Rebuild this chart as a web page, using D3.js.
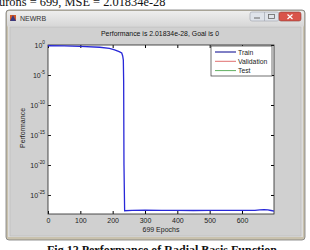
<!DOCTYPE html>
<html>
<head>
<meta charset="utf-8">
<script src="https://d3js.org/d3.v7.min.js"></script>
<style>
  body { margin: 0; background: #fff; }
  svg text { font-family: "Liberation Sans", Arial, sans-serif; }
</style>
</head>
<body>
<svg id="chart" width="310" height="250"></svg>
<script>
// training record (newrb)
var epochs = [0, 50, 100, 160, 190, 206, 220, 228, 231, 233, 234, 235, 237, 260, 300, 350, 400, 450, 500, 550, 600, 640, 655, 668, 680, 690, 699];
var trainPerf = [0.75, 0.7, 0.6, 0.42, 0.28, 0.15, 0.08, 0.047, 0.015, 0.003, 1e-6, 1e-20, 2.4e-28, 2.7e-28, 2.9e-28, 2.7e-28, 2.8e-28, 2.6e-28, 2.7e-28, 2.8e-28, 2.7e-28, 2.7e-28, 3.4e-28, 3.6e-28, 3.2e-28, 2.6e-28, 2.02e-28];
var xTicks = [0, 100, 200, 300, 400, 500, 600];
var yTickExps = [0, -5, -10, -15, -20, -25];
var legendNames = ["Train", "Validation", "Test"];
var legendColors = ["#00008b", "#e07070", "#60b060"];

var svg = d3.select("#chart");

// page text above the screenshot
svg.append("text").attr("x", -1).attr("y", 6)
  .style("font-family", "Liberation Serif").attr("font-size", 12.4).attr("fill", "#111")
  .text("urons = 699, MSE = 2.01834e-28");

// window frame
svg.append("rect").attr("x", 6).attr("y", 10).attr("width", 299).attr("height", 230)
  .attr("rx", 3).attr("fill", "#c9c2ae").attr("stroke", "#7a7a7a").attr("stroke-width", 0.8);
var tb = svg.append("defs").append("linearGradient").attr("id", "tb")
  .attr("x1", 0).attr("y1", 0).attr("x2", 0).attr("y2", 1);
tb.append("stop").attr("offset", 0).attr("stop-color", "#eeeeee");
tb.append("stop").attr("offset", 1).attr("stop-color", "#d6d6d6");
svg.append("rect").attr("x", 7).attr("y", 11).attr("width", 297).attr("height", 16)
  .attr("rx", 2).attr("fill", "url(#tb)");
svg.append("rect").attr("x", 8).attr("y", 26).attr("width", 295).attr("height", 211)
  .attr("fill", "#dcdcdc");
svg.append("rect").attr("x", 10).attr("y", 27).attr("width", 291).attr("height", 209)
  .attr("fill", "#d0d0d0").attr("stroke", "#b8b8b8").attr("stroke-width", 0.6);

// title bar icon + name
svg.append("rect").attr("x", 10).attr("y", 15).attr("width", 6).attr("height", 6).attr("fill", "#d0582a");
svg.append("path").attr("d", "M10,21 L13,15 L16,21 Z").attr("fill", "#3a3a80");
svg.append("text").attr("x", 20).attr("y", 21).attr("font-size", 7).attr("fill", "#333").text("NEWRB");

// caption buttons
svg.append("rect").attr("x", 250).attr("y", 12).attr("width", 29).attr("height", 9).attr("rx", 2)
  .attr("fill", "#dfe3ea").attr("stroke", "#9aa0aa").attr("stroke-width", 0.6);
svg.append("line").attr("x1", 264.5).attr("x2", 264.5).attr("y1", 12).attr("y2", 21).attr("stroke", "#9aa0aa").attr("stroke-width", 0.6);
svg.append("line").attr("x1", 254).attr("x2", 260).attr("y1", 18).attr("y2", 18).attr("stroke", "#666");
svg.append("rect").attr("x", 268.5).attr("y", 14.5).attr("width", 6).attr("height", 4).attr("fill", "none").attr("stroke", "#666").attr("stroke-width", 0.8);
svg.append("rect").attr("x", 279).attr("y", 12).attr("width", 22).attr("height", 9).attr("rx", 2)
  .attr("fill", "#d9544a").attr("stroke", "#8a3a32").attr("stroke-width", 0.6);
svg.append("path").attr("d", "M287.5,14.5 L292.5,19 M292.5,14.5 L287.5,19").attr("stroke", "#fff").attr("stroke-width", 1.2);

// plot
var x = d3.scaleLinear().domain([0, 699]).range([48, 274]);
var y = d3.scaleLog().domain([Math.pow(10, -28.17), 1]).range([214, 45]);

svg.append("rect").attr("x", 48).attr("y", 45).attr("width", 226).attr("height", 169).attr("fill", "#fff");

svg.append("g").attr("transform", "translate(0,214)")
  .call(d3.axisBottom(x).tickValues(xTicks).tickSize(-3).tickPadding(4).tickFormat(d3.format("d")))
  .call(function(g) { g.select(".domain").remove(); g.selectAll("text").attr("font-size", 7).attr("fill", "#222"); });
svg.append("g").attr("transform", "translate(0,45)")
  .call(d3.axisTop(x).tickValues(xTicks).tickSize(-3).tickFormat(""))
  .call(function(g) { g.select(".domain").remove(); });

var yTicks = yTickExps.map(function(e) { return Math.pow(10, e); });
var yl = svg.append("g").attr("transform", "translate(48,0)")
  .call(d3.axisLeft(y).tickValues(yTicks).tickSize(-3).tickFormat(""))
  .call(function(g) { g.select(".domain").remove(); });
svg.append("g").attr("transform", "translate(274,0)")
  .call(d3.axisRight(y).tickValues(yTicks).tickSize(-3).tickFormat(""))
  .call(function(g) { g.select(".domain").remove(); });

yTickExps.forEach(function(e) {
  var t = svg.append("text").attr("x", 45).attr("y", y(Math.pow(10, e)) + 3)
    .attr("font-size", 7).attr("fill", "#222").attr("text-anchor", "end");
  t.append("tspan").text("10");
  t.append("tspan").attr("dy", -4).attr("font-size", 4.8).text(e);
});
yl.selectAll("line").attr("stroke", "#222");

svg.append("rect").attr("x", 48).attr("y", 45).attr("width", 226).attr("height", 169)
  .attr("fill", "none").attr("stroke", "#222").attr("stroke-width", 0.8);

svg.append("path").datum(d3.zip(epochs, trainPerf))
  .attr("fill", "none").attr("stroke", "#2828d8").attr("stroke-width", 1.3)
  .attr("d", d3.line().x(function(d) { return x(d[0]); }).y(function(d) { return y(d[1]); }));

// title and labels
svg.append("text").attr("x", 160).attr("y", 36).attr("text-anchor", "middle")
  .attr("font-size", 6.9).attr("fill", "#111").text("Performance is 2.01834e-28, Goal is 0");
svg.append("text").attr("x", 161).attr("y", 232).attr("text-anchor", "middle")
  .attr("font-size", 7).attr("fill", "#222").text("699 Epochs");
svg.append("text").attr("transform", "translate(25,128) rotate(-90)").attr("text-anchor", "middle")
  .attr("font-size", 7).attr("fill", "#222").text("Performance");

// legend
svg.append("rect").attr("x", 211).attr("y", 46).attr("width", 61).attr("height", 30)
  .attr("fill", "#fff").attr("stroke", "#333").attr("stroke-width", 0.7);
legendNames.forEach(function(n, i) {
  var ly = 52 + i * 9.3;
  svg.append("line").attr("x1", 215).attr("x2", 236).attr("y1", ly).attr("y2", ly)
    .attr("stroke", legendColors[i]).attr("stroke-width", 1);
  svg.append("text").attr("x", 238).attr("y", ly + 2.6).attr("font-size", 6.8).attr("fill", "#222").text(n);
});

// caption below the screenshot
svg.append("text").attr("x", 47).attr("y", 254)
  .style("font-family", "Liberation Serif").attr("font-weight", "bold").attr("font-size", 12).attr("fill", "#111")
  .text("Fig.12 Performance of Radial Basis Function");
</script>
</body>
</html>
